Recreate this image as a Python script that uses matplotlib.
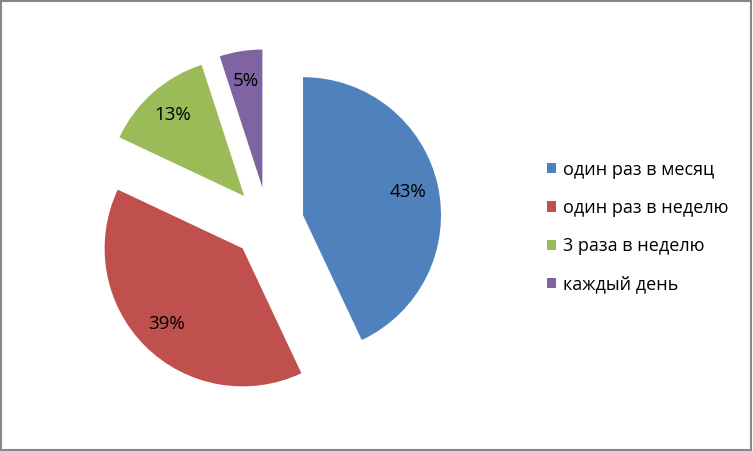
import matplotlib
matplotlib.use("Agg")
import matplotlib.pyplot as plt
from matplotlib.patches import Patch, Rectangle

plt.rcParams['font.family'] = ['Open Sans', 'DejaVu Sans']

categories = ["один раз в месяц", "один раз в неделю", "3 раза в неделю", "каждый день"]
values = [43, 39, 13, 5]
colors = ["#4F81BD", "#C0504D", "#9BBB59", "#8064A2"]

W, H = 753, 451
fig = plt.figure(figsize=(W / 100, H / 100), dpi=100)
ax = fig.add_axes([0, 0, 1, 1])

cx, cy, r = 268, 223, 138  # pixel centre and radius
ax.axis('off')

wedges, texts, autotexts = ax.pie(
    values, colors=colors, startangle=90, counterclock=False,
    explode=[0.26] * len(values), radius=1.0,
    autopct='%1.0f%%', pctdistance=0.78,
    textprops=dict(fontsize=13.5, color='black'),
    wedgeprops=dict(linewidth=0))
ax.set_xlim(-cx / r, (W - cx) / r)
ax.set_ylim(-(H - cy) / r, cy / r)
ax.set_aspect('auto')

handles = [Patch(facecolor=c, edgecolor='none') for c in colors]
fig.legend(handles, categories, loc='center left',
           bbox_to_anchor=(547 / W, 1 - 227 / H), frameon=False,
           fontsize=13, handlelength=0.5, handleheight=0.5,
           handletextpad=0.4, labelspacing=1.12, borderpad=0,
           borderaxespad=0)

fig.patches.append(Rectangle((0.001, 0.002), 0.997, 0.996, transform=fig.transFigure,
                             fill=False, edgecolor='#868686', linewidth=1.5))

fig.savefig('out.png', dpi=100, facecolor='white')
